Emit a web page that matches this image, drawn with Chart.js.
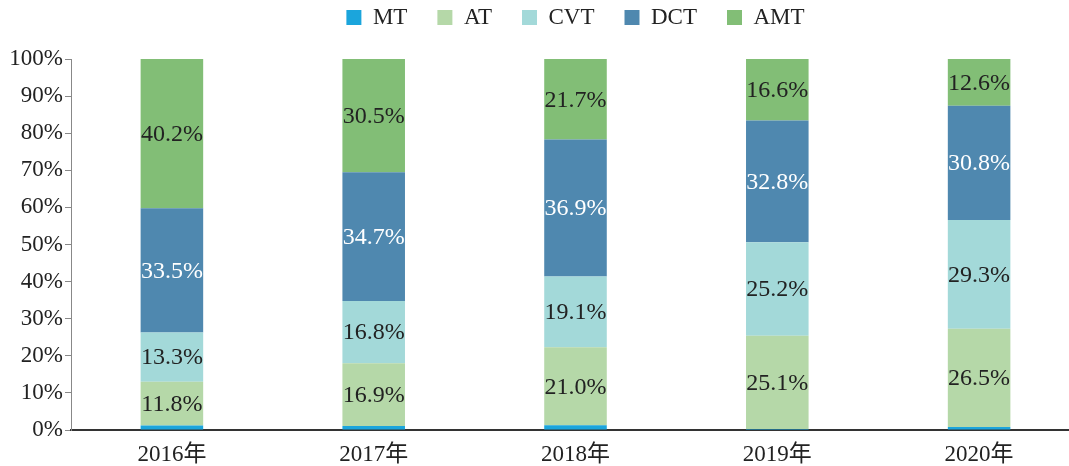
<!DOCTYPE html>
<html>
<head>
<meta charset="utf-8">
<script src="https://cdn.jsdelivr.net/npm/chart.js@4/dist/chart.umd.min.js"></script>
<style>
    body { margin: 0; background: #fff; overflow: hidden; }
    .chart-wrap { width: 1080px; height: 466px; position: relative; }
</style>
</head>
<body>
<div class="chart-wrap"><canvas id="gearboxShareChart"></canvas></div>
<script>
// categories and shares (%) per transmission type
const years = ['2016年', '2017年', '2018年', '2019年', '2020年'];
const mtShare = [1.2, 1.1, 1.3, 0.3, 0.8];
const atShare = [11.8, 16.9, 21.0, 25.1, 26.5];
const cvtShare = [13.3, 16.8, 19.1, 25.2, 29.3];
const dctShare = [33.5, 34.7, 36.9, 32.8, 30.8];
const amtShare = [40.2, 30.5, 21.7, 16.6, 12.6];
const yTicks = [0, 10, 20, 30, 40, 50, 60, 70, 80, 90, 100];

const serif = '"Liberation Serif", "Times New Roman", "Noto Sans CJK SC", serif';

const series = [
    { label: 'MT', data: mtShare, color: '#1ba5dc', text: '#222' },
    { label: 'AT', data: atShare, color: '#b5d8a8', text: '#222' },
    { label: 'CVT', data: cvtShare, color: '#a3d9d9', text: '#222' },
    { label: 'DCT', data: dctShare, color: '#4f88af', text: '#fff' },
    { label: 'AMT', data: amtShare, color: '#82be76', text: '#222' }
];

// labels in the middle of each segment (skip the thin MT slices)
const segmentLabels = {
    id: 'segmentLabels',
    afterDatasetsDraw(chart) {
        const ctx = chart.ctx;
        ctx.save();
        ctx.font = `24px ${serif}`;
        ctx.textAlign = 'center';
        ctx.textBaseline = 'middle';
        chart.data.datasets.forEach((ds, i) => {
            const meta = chart.getDatasetMeta(i);
            meta.data.forEach((bar, j) => {
                const v = ds.data[j];
                if (v < 5) return;
                ctx.fillStyle = series[i].text;
                ctx.fillText(v.toFixed(1) + '%', bar.x, (bar.y + bar.base) / 2 + 1);
            });
        });
        ctx.restore();
    }
};

// leave more room between the legend row and the plot
const legendGap = {
    id: 'legendGap',
    afterInit(chart) {
        const legend = chart.legend;
        if (!legend) return;
        const fit = legend.fit;
        legend.fit = function () {
            fit.call(this);
            this.height += 20;
        };
    }
};

new Chart(document.getElementById('gearboxShareChart'), {
    type: 'bar',
    data: {
        labels: years,
        datasets: series.map((s) => ({
            label: s.label,
            data: s.data,
            backgroundColor: s.color,
            borderWidth: 0,
            barPercentage: 0.31,
            categoryPercentage: 1
        }))
    },
    options: {
        responsive: true,
        maintainAspectRatio: false,
        animation: false,
        layout: { padding: { top: -24, left: 0, right: 0, bottom: 0 } },
        plugins: {
            legend: {
                position: 'top',
                fullSize: false,
                labels: {
                    boxWidth: 15,
                    boxHeight: 15,
                    padding: 30,
                    color: '#222',
                    font: { family: serif, size: 23 }
                }
            },
            tooltip: { enabled: false }
        },
        scales: {
            x: {
                stacked: true,
                grid: { display: false },
                border: { display: true, color: '#333', width: 2 },
                ticks: { color: '#222', font: { family: serif, size: 23 }, padding: 3 },
                afterFit: (s) => { s.height = 36; }
            },
            y: {
                stacked: true,
                min: 0,
                max: 100,
                afterBuildTicks: (s) => { s.ticks = yTicks.map((v) => ({ value: v })); },
                grid: { drawOnChartArea: false, drawTicks: true, tickLength: 6, color: '#888' },
                border: { display: true, color: '#888', width: 1 },
                ticks: { color: '#222', font: { family: serif, size: 23 }, padding: 2, callback: (v) => v + '%' },
                afterFit: (s) => { s.width = 71; }
            }
        }
    },
    plugins: [segmentLabels, legendGap]
});
</script>
</body>
</html>
